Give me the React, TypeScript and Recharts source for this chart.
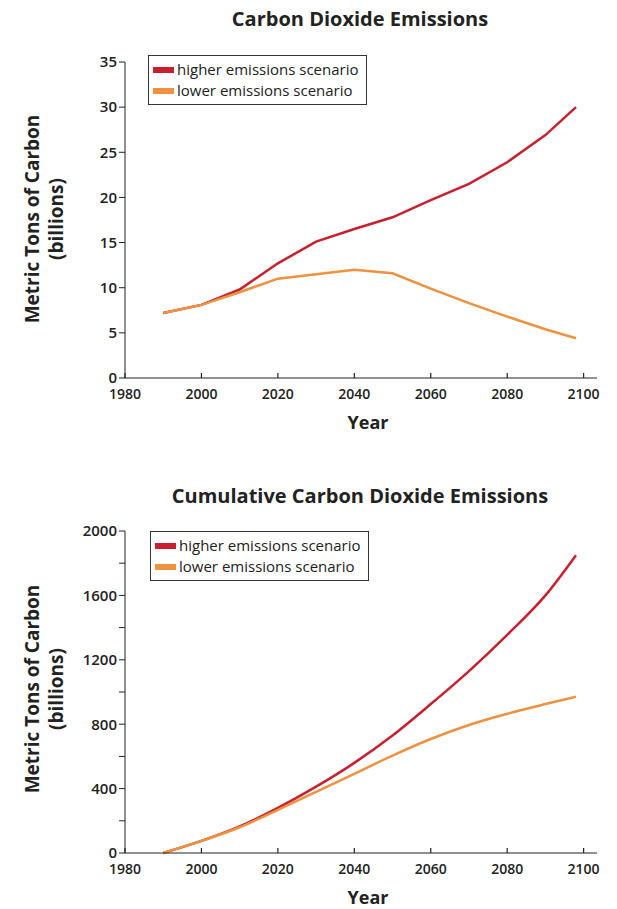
import React from 'react';
import { LineChart, Line, XAxis, YAxis } from 'recharts';

const years = [1990, 2000, 2010, 2020, 2030, 2040, 2050, 2060, 2070, 2080, 2090, 2098];
const annualHigher = [7.2, 8.1, 9.8, 12.7, 15.1, 16.5, 17.8, 19.7, 21.5, 23.9, 26.9, 30.0];
const annualLower = [7.2, 8.1, 9.5, 11.0, 11.5, 12.0, 11.6, 9.9, 8.3, 6.8, 5.4, 4.4];
const cumulativeHigher = [0, 75, 165, 280, 412, 560, 730, 925, 1130, 1355, 1600, 1850];
const cumulativeLower = [0, 75, 160, 268, 380, 492, 605, 708, 795, 865, 925, 970];

const xTicks = [1980, 2000, 2020, 2040, 2060, 2080, 2100];
const annualTicks = [0, 5, 10, 15, 20, 25, 30, 35];
const cumulativeTicks = [0, 200, 400, 600, 800, 1000, 1200, 1400, 1600, 1800, 2000];

const HIGH = '#c8202e';
const LOW = '#ef9140';
const FONT = '"Open Sans", "Noto Sans", sans-serif';
const INK = '#222';

const seriesLegend = [
  { name: 'higher emissions scenario', color: HIGH },
  { name: 'lower emissions scenario', color: LOW },
];

const annualData = years.map((y, i) => ({ year: y, higher: annualHigher[i], lower: annualLower[i] }));
const cumulativeData = years.map((y, i) => ({ year: y, higher: cumulativeHigher[i], lower: cumulativeLower[i] }));

const XTick = (props: any) => {
  const { x, y, payload } = props;
  return (
    <g>
      <line x1={x} x2={x} y1={y} y2={y - 5} stroke={INK} strokeWidth={1.2} />
      <text x={x} y={y + 21} textAnchor="middle" fontFamily={FONT} fontSize={14} fontWeight={600} fill={INK}>
        {payload.value}
      </text>
    </g>
  );
};

const LegendBox = ({ left, top }: { left: number; top: number }) => (
  <div
    style={{
      position: 'absolute',
      left,
      top,
      border: '1.5px solid #333',
      padding: '3px 8px 3px 4px',
      background: '#fff',
      fontFamily: FONT,
      fontSize: 15,
      color: INK,
      lineHeight: '21px',
      whiteSpace: 'nowrap',
    }}
  >
    {seriesLegend.map((p) => (
      <div key={p.name} style={{ display: 'flex', alignItems: 'center' }}>
        <span style={{ display: 'inline-block', width: 21, height: 6, background: p.color, marginRight: 3 }} />
        <span>{p.name}</span>
      </div>
    ))}
  </div>
);

const YLabel = ({ top }: { top: number }) => (
  <div style={{ position: 'absolute', left: 44, top, width: 0, height: 0 }}>
    <div
      style={{
        position: 'absolute',
        left: -150,
        top: -25,
        width: 300,
        textAlign: 'center',
        transform: 'rotate(-90deg)',
        fontFamily: FONT,
        fontWeight: 700,
        fontSize: 19,
        lineHeight: '24px',
        color: INK,
      }}
    >
      Metric Tons of Carbon
      <br />
      (billions)
    </div>
  </div>
);

const Title = ({ text, top }: { text: string; top: number }) => (
  <div
    style={{
      position: 'absolute',
      left: 155,
      width: 410,
      top,
      textAlign: 'center',
      fontFamily: FONT,
      fontWeight: 700,
      fontSize: 20,
      color: INK,
      whiteSpace: 'nowrap',
    }}
  >
    {text}
  </div>
);

const XTitle = ({ top }: { top: number }) => (
  <div
    style={{
      position: 'absolute',
      left: 268,
      width: 200,
      top,
      textAlign: 'center',
      fontFamily: FONT,
      fontWeight: 700,
      fontSize: 18,
      color: INK,
    }}
  >
    Year
  </div>
);

const yTickStyle = { fontFamily: FONT, fontSize: 15, fontWeight: 600, fill: INK };

export default function App() {
  return (
    <div style={{ position: 'absolute', left: 0, top: 0, width: 617, height: 909, background: '#fff' }}>
      <Title text="Carbon Dioxide Emissions" top={5} />
      <div style={{ position: 'absolute', left: 0, top: 0 }}>
        <LineChart width={617} height={440} data={annualData} margin={{ top: 62, right: 20, bottom: 32, left: 0 }}>
          <XAxis
            dataKey="year"
            type="number"
            domain={[1980, 2103.5]}
            ticks={xTicks}
            allowDataOverflow
            stroke={INK}
            tickLine={false}
            tickSize={0}
            tickMargin={0}
            height={30}
            tick={<XTick />}
          />
          <YAxis
            type="number"
            domain={[0, 35]}
            ticks={annualTicks}
            width={125}
            stroke={INK}
            tickSize={6}
            tickMargin={2}
            tick={yTickStyle}
          />
          <Line
            type="linear"
            dataKey="higher"
            name="higher emissions scenario"
            stroke={HIGH}
            strokeWidth={2.5}
            dot={false}
            isAnimationActive={false}
          />
          <Line
            type="linear"
            dataKey="lower"
            name="lower emissions scenario"
            stroke={LOW}
            strokeWidth={2.5}
            dot={false}
            isAnimationActive={false}
          />
        </LineChart>
      </div>
      <LegendBox left={148} top={55} />
      <YLabel top={220} />
      <XTitle top={410} />

      <Title text="Cumulative Carbon Dioxide Emissions" top={482} />
      <div style={{ position: 'absolute', left: 0, top: 440 }}>
        <LineChart width={617} height={469} data={cumulativeData} margin={{ top: 91, right: 20, bottom: 26, left: 0 }}>
          <XAxis
            dataKey="year"
            type="number"
            domain={[1980, 2103.5]}
            ticks={xTicks}
            allowDataOverflow
            stroke={INK}
            tickLine={false}
            tickSize={0}
            tickMargin={0}
            height={30}
            tick={<XTick />}
          />
          <YAxis
            type="number"
            domain={[0, 2000]}
            ticks={cumulativeTicks}
            interval={0}
            width={125}
            stroke={INK}
            tickSize={6}
            tickMargin={2}
            tick={yTickStyle}
            tickFormatter={(v: number) => (v % 400 === 0 ? String(v) : '')}
          />
          <Line
            type="monotone"
            dataKey="higher"
            name="higher emissions scenario"
            stroke={HIGH}
            strokeWidth={2.5}
            dot={false}
            isAnimationActive={false}
          />
          <Line
            type="monotone"
            dataKey="lower"
            name="lower emissions scenario"
            stroke={LOW}
            strokeWidth={2.5}
            dot={false}
            isAnimationActive={false}
          />
        </LineChart>
      </div>
      <LegendBox left={150} top={531} />
      <YLabel top={690} />
      <XTitle top={885} />
    </div>
  );
}
